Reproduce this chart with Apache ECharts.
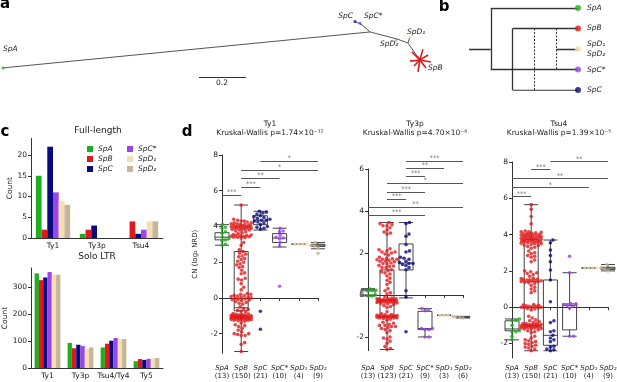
<!DOCTYPE html>
<html>
<head>
<meta charset="utf-8">
<script src="https://cdn.jsdelivr.net/npm/echarts@6/dist/echarts.min.js"></script>
<style>
html, body { margin: 0; padding: 0; background: #fff; }
#chart { width: 617px; height: 382px; }
</style>
</head>
<body>
<div id="chart"></div>
<script>
/* ---------- data ---------- */
const SPECIES = ["SpA", "SpB", "SpC", "SpC*", "SpD₁", "SpD₂"];
const COLORS = ["#1fae1f", "#e0191c", "#0a0a80", "#9b45e6", "#f5deb3", "#c7b598"];

// c: full-length and solo LTR counts (one row per species)
const FL_CATS = ["Ty1", "Ty3p", "Tsu4"];
const FL_VALUES = [[15, 1, 0], [2, 2, 4], [22, 3, 1], [11, 0, 2], [9, 0, 4], [8, 0, 4]];
const SOLO_CATS = ["Ty1", "Ty3p", "Tsu4/Ty4", "Ty5"];
const SOLO_VALUES = [[350, 93, 76, 25], [325, 73, 90, 33], [335, 86, 101, 30],
    [355, 81, 111, 34], [345, 70, 107, 35], [345, 76, 107, 37]];

// d: copy numbers
const D_NAMES = ["Ty1", "Ty3p", "Tsu4"];
const D_PVALUES = ["1.74×10⁻¹²", "4.70×10⁻⁸", "1.39×10⁻⁵"];
const D_COUNTS = [[13, 150, 21, 10, 4, 9], [13, 123, 21, 9, 3, 6], [13, 150, 21, 10, 4, 9]];

const TY1_POINTS = [
    [4.1, 3.95, 3.9, 3.7, 3.6, 3.45, 3.4, 3.35, 3.3, 3.25, 3.2, 3.0, 2.95],
    [5.2, 4.4,
     4.35, 4.3, 4.3, 4.25, 4.2, 4.2, 4.15, 4.15, 4.1, 4.1, 4.05, 4.05, 4.0, 4.0, 4.0, 3.98, 3.95, 3.95, 3.92, 3.9,
     3.9, 3.88, 3.85, 3.85, 3.8, 3.8, 3.75, 3.7, 3.65, 3.6, 3.55, 3.5, 3.5, 3.48, 3.45, 3.45, 3.42, 3.4, 3.4, 3.38,
     3.35, 4.02, 3.96, 4.08, 3.52,
     3.1, 2.95, 2.7, 2.6,
     2.5, 2.45, 2.35, 2.3, 2.2, 2.15, 2.05, 2.0, 1.9, 1.85, 1.75, 1.7, 1.55, 1.4, 1.35, 1.1, 1.05, 1.0,
     0.8, 0.6, 0.45,
     0.25, 0.2, 0.2, 0.15, 0.12, 0.1, 0.08, 0.05, 0.02, 0.0, -0.02, -0.05, -0.08, -0.1, -0.12, -0.15, -0.2, -0.25, -0.3, -0.35,
     -0.5, -0.6, -0.65, -0.7, -0.75, -0.8,
     -0.9, -0.92, -0.95, -0.95, -0.98, -1.0, -1.0, -1.0, -1.02, -1.02, -1.05, -1.05, -1.05, -1.08, -1.08, -1.1, -1.1, -1.1,
     -1.12, -1.12, -1.15, -1.15, -1.18, -1.2, -1.2, -1.22, -1.25, -1.25, -1.28, -1.3, -0.88, -0.97, -1.03, -1.07, -1.13, -1.17, -1.23,
     -1.4, -1.5, -1.55, -1.6, -1.7, -1.8, -1.9, -2.0, -2.0, -2.05, -2.1, -2.1, -2.5, -2.6, -3.0],
    [4.85, 4.8, 4.75, 4.7, 4.6, 4.55, 4.5, 4.45, 4.4, 4.35, 4.35, 4.3, 4.25, 4.2, 4.1, 4.0, 3.95, 3.9, 3.85, -0.75, -1.75],
    [3.9, 3.75, 3.7, 3.5, 3.4, 3.35, 3.3, 3.1, 2.9, 0.65],
    [3.0, 3.0, 3.0, 3.0],
    [3.1, 3.0, 2.97, 2.95, 2.93, 2.9, 2.88, 2.8, 2.5],
];
const TY3P_POINTS = [
    [0.3, 0.28, 0.25, 0.25, 0.22, 0.2, 0.2, 0.18, 0.05, 0.0, -0.02, -0.05, -0.05],
    [3.45, 3.4, 3.35, 3.3, 3.3, 3.2, 3.1, 3.0, 2.95, 2.9,
     2.2, 2.15, 2.1, 2.05, 2.0, 1.95, 1.9, 1.75, 1.72, 1.7, 1.7, 1.68, 1.65, 1.6, 1.5, 1.8, 1.62, 1.58, 1.52, 1.48, 2.05,
     1.4, 1.38, 1.35, 1.3, 1.3, 1.2, 1.15, 1.1, 1.05, 1.0, 0.9, 0.8, 0.7, 0.6, 0.5,
     0.3, 0.2, 0.1, 0.05,
     -0.1, -0.15, -0.18, -0.2, -0.2, -0.22, -0.25, -0.25, -0.28, -0.3, -0.3, -0.32, -0.35, -0.35, -0.38, -0.4, -0.42, -0.45,
     -0.5, -0.55, -0.6, -0.2, -0.27, -0.33, -0.23, -0.29, -0.31, -0.36, -0.18, -0.26,
     -0.8, -0.9, -0.95, -0.98, -1.0, -1.0, -1.02, -1.02, -1.05, -1.05, -1.08, -1.1, -1.1, -1.12, -1.15, -1.2, -1.0, -1.04,
     -0.97, -1.01, -1.06, -1.09, -0.93,
     -1.3, -1.35, -1.4, -1.45, -1.45, -1.5, -1.5, -1.55, -1.6, -1.65, -1.7, -1.8,
     -2.0, -2.05, -2.1, -2.2, -2.3, -2.45, -2.55, -2.6],
    [3.45, 3.4, 2.9, 2.8, 2.4, 2.1, 2.05, 1.8, 1.75, 1.7, 1.6, 1.55, 1.5, 1.5, 1.45, 1.4, 1.3, 1.2, 0.2, -0.1, -1.75],
    [-0.65, -0.7, -0.75, -1.6, -1.6, -1.65, -1.65, -2.0, -2.0],
    [-0.97, -0.97, -0.97],
    [-1.02, -1.03, -1.05, -1.05, -1.07, -1.1],
];
const TSU4_POINTS = [
    [-0.65, -0.68, -0.7, -0.72, -0.75, -1.0, -1.25, -1.3, -1.3, -1.35, -1.35, -1.6, -1.8],
    [5.65, 5.4, 5.0, 4.6,
     4.2, 4.15, 4.15, 4.1, 4.1, 4.05, 4.05, 4.0, 4.0, 4.0, 3.95, 3.95, 3.9, 3.9, 3.88, 3.85, 3.85, 3.8, 3.8, 3.78,
     3.75, 3.75, 3.72, 3.7, 3.7, 3.68, 3.65, 3.65, 3.62, 3.6, 3.6, 3.58, 3.55, 3.5, 3.5, 3.45, 3.42, 3.4, 3.35, 3.3, 3.25,
     4.12, 3.98, 3.92, 3.82, 3.66, 3.52,
     3.1, 3.0, 2.95, 2.85, 2.8, 2.75, 2.6, 2.5,
     2.0, 1.95, 1.9, 1.85, 1.8, 1.7, 1.6, 1.55, 1.5, 1.5, 1.48, 1.45, 1.42, 1.4, 1.38, 1.35, 1.3, 1.2, 1.1, 1.0, 0.9, 0.8,
     1.52, 1.46, 1.58,
     0.15, 0.12, 0.1, 0.08, 0.05, 0.05, 0.02, 0.0, 0.0, -0.02, -0.05, -0.08, -0.1, -0.15,
     -0.5, -0.6, -0.7, -0.75, -0.8, -0.85, -0.9, -0.9, -0.95, -0.95, -0.98, -1.0, -1.0, -1.0, -1.02, -1.02, -1.05, -1.05,
     -1.08, -1.1, -1.1, -1.12, -1.15, -1.15, -1.2, -1.2, -1.25, -1.3, -1.35, -1.4, -0.92, -1.04, -1.18, -1.07,
     -1.6, -1.7, -1.8, -1.85, -1.9, -1.95, -2.0, -2.05, -2.1, -2.15, -2.2, -2.25, -2.3, -2.4],
    [3.7, 3.55, 3.15, 2.85, 2.5, 2.05, 1.5, 0.3, -0.75, -0.85, -1.3, -1.35, -1.55, -1.7, -1.8, -1.9, -2.15, -2.2, -2.3, -2.35, -2.4],
    [2.8, 1.9, 0.2, 0.18, 0.15, 0.1, 0.05, -0.05, -1.6, -1.6],
    [2.15, 2.15, 2.15, 2.15],
    [2.5, 2.35, 2.2, 2.18, 2.15, 2.12, 2.1, 2.05, 2.0],
];

// [min, Q1, median, Q3, max]
const TY1_BOX = [[2.95, 3.25, 3.4, 3.65, 4.1], [-3.0, -0.72, -0.55, 2.6, 5.2], [3.8, 4.1, 4.35, 4.6, 4.85],
    [2.85, 3.1, 3.35, 3.6, 3.9], [3.0, 3.0, 3.0, 3.0, 3.0], [2.75, 2.88, 2.95, 3.0, 3.1]];
const TY3P_BOX = [[-0.05, 0.0, 0.2, 0.25, 0.3], [-2.6, -1.05, -0.25, 1.19, 3.45], [-0.14, 1.19, 1.52, 2.43, 3.45],
    [-2.0, -1.65, -1.6, -0.78, -0.65], [-0.97, -0.97, -0.97, -0.97, -0.97], [-1.1, -1.06, -1.05, -1.03, -1.02]];
const TSU4_BOX = [[-1.8, -1.3, -1.2, -0.75, -0.65], [-2.4, -1.0, 1.4, 3.74, 5.65], [-2.4, -2.1, -1.55, 1.5, 3.7],
    [-1.6, -1.25, 0.1, 0.18, 1.9], [2.15, 2.15, 2.15, 2.15, 2.15], [2.0, 2.08, 2.15, 2.2, 2.35]];

// significance bars: [from, to, height, stars]
const TY1_SIG = [[0, 1, 5.75, "***"], [1, 2, 6.2, "***"], [1, 3, 6.7, "**"], [1, 5, 7.17, "*"], [2, 5, 7.67, "*"]];
const TY3P_SIG = [[0, 3, 3.8, "***"], [0, 5, 4.19, "**"], [1, 2, 4.57, "***"], [1, 3, 4.9, "***"],
    [1, 5, 5.33, "*"], [2, 3, 5.67, "***"], [2, 4, 6.05, "**"], [2, 5, 6.38, "***"]];
const TSU4_SIG = [[0, 1, 6.1, "***"], [0, 4, 6.6, "*"], [0, 5, 7.08, "**"], [1, 2, 7.58, "***"], [2, 5, 8.02, "**"]];

// a: unrooted tree, node positions in substitutions/site
const TREE_NODES = {
    SpA: [0, 0.289], J1: [1.562, 0.136], nC: [1.528, 0.106], SpC: [1.498, 0.092], SpCs: [1.519, 0.098],
    J2: [1.677, 0.166], SpD2: [1.672, 0.172], J3: [1.723, 0.183], SpD1: [1.732, 0.157], nB: [1.774, 0.255],
};
const TREE_EDGES = [["SpA", "J1"], ["nC", "J1"], ["nC", "SpC"], ["nC", "SpCs"], ["J1", "J2"],
    ["J2", "SpD2"], ["J2", "J3"], ["J3", "SpD1"], ["J3", "nB"]];
const SPB_TIPS = [[1.740, 0.221], [1.809, 0.234], [1.749, 0.281], [1.800, 0.289], [1.766, 0.306],
    [1.732, 0.260], [1.821, 0.264], [1.787, 0.209], [1.762, 0.238]];
const SCALE_BAR = [[0.834, 0.328], [1.034, 0.328]];

// b: cladogram (depth, row)
const CLADE_SOLID = [[[0, 2], [1, 2]], [[1, 0], [1, 3]], [[1, 0], [5, 0]], [[1, 3], [5, 3]],
    [[2, 1], [2, 4]], [[2, 1], [5, 1]], [[2, 4], [5, 4]], [[4, 2], [5, 2]]];
const CLADE_DASHED = [[[3, 1], [3, 4]], [[4, 1], [4, 3]]];
const CLADE_TIPS = [[5, 0, 0], [5, 1, 1], [5, 2, 4], [5, 3, 3], [5, 4, 2]]; // depth, row, species index

/* ---------- helpers ---------- */
const FONT = "DejaVu Sans";
const AX = "#333";

function swarmOffsets(vals, pyu, pxu, d, maxOff) {
    const order = vals.map((v, i) => i).sort((a, b) => vals[a] - vals[b]);
    const placed = [];
    const offs = new Array(vals.length).fill(0);
    const cands = [0];
    for (let s = 0.5; s <= maxOff; s += 0.5) cands.push(s, -s);
    order.forEach(i => {
        const y = vals[i] * pyu;
        let best = 0, bestD = -1;
        for (const c of cands) {
            let md = Infinity;
            for (const p of placed) {
                if (Math.abs(p[1] - y) >= d) continue;
                const dd = Math.hypot(p[0] - c, p[1] - y);
                if (dd < md) md = dd;
            }
            if (md >= d) { best = c; break; }
            if (md > bestD) { bestD = md; best = c; }
        }
        placed.push([best, y]);
        offs[i] = best / pxu;
    });
    return offs;
}

function txt(text, x, y, o = {}) {
    return {
        type: "text", x, y, z: 50,
        style: {
            text, fill: o.color || "#222", fontSize: o.size || 7.5, fontFamily: FONT,
            fontStyle: o.italic ? "italic" : "normal", fontWeight: o.bold ? "bold" : "normal",
            align: o.align || "center", verticalAlign: "middle",
        },
    };
}

/* ---------- layout ---------- */
const grids = [
    { left: 3, top: 0, width: 446.5, height: 98.7 },          // a
    { left: 469, top: 8, width: 109, height: 82 },            // b
    { left: 31, top: 138.4, width: 132, height: 99.6 },        // c full-length
    { left: 31, top: 268, width: 132, height: 100 },           // c solo LTR
    { left: 222, top: 155, width: 96, height: 198.3 },         // d Ty1
    { left: 368, top: 169, width: 95, height: 181.6 },         // d Ty3p
    { left: 512, top: 162, width: 96, height: 196 },           // d Tsu4
].map(g => Object.assign(g, { outerBoundsMode: "none" }));

const D_YRANGE = [[-3.1, 8], [-2.65, 6], [-2.8, 8]];
const D_YTICKS = [[-2, 0, 2, 4, 6, 8], [-2, 0, 2, 4, 6], [-2, 0, 2, 4, 6, 8]];
const D_POINTS = [TY1_POINTS, TY3P_POINTS, TSU4_POINTS];
const D_BOXES = [TY1_BOX, TY3P_BOX, TSU4_BOX];
const D_SIGS = [TY1_SIG, TY3P_SIG, TSU4_SIG];

const xAxis = [
    { gridIndex: 0, type: "value", min: 0, max: 1.9, show: false },
    { gridIndex: 1, type: "value", min: 0, max: 5, show: false },
];
const yAxis = [
    { gridIndex: 0, type: "value", min: 0, max: 0.42, inverse: true, show: false },
    { gridIndex: 1, type: "value", min: 0, max: 4, inverse: true, show: false },
];

function barAxes(gi, cats, max, ticks) {
    xAxis.push({
        gridIndex: gi, type: "category", data: cats,
        axisLine: { lineStyle: { color: AX } },
        axisTick: { alignWithLabel: true, length: 3, lineStyle: { color: AX } },
        axisLabel: { color: "#222", fontSize: 7.5, margin: 4, fontFamily: FONT, interval: 0 },
    });
    yAxis.push({
        gridIndex: gi, type: "value", min: 0, max,
        name: "Count", nameLocation: "middle", nameGap: 16,
        nameTextStyle: { fontSize: 7.5, color: "#222", fontFamily: FONT },
        axisLine: { show: true, lineStyle: { color: AX } },
        axisTick: { show: true, length: 3, customValues: ticks, lineStyle: { color: AX } },
        axisLabel: { customValues: ticks, fontSize: 7.5, color: "#222", margin: 4, fontFamily: FONT },
        splitLine: { show: false },
    });
}
barAxes(2, FL_CATS, 24, [0, 5, 10, 15, 20]);
barAxes(3, SOLO_CATS, 370, [0, 100, 200, 300]);

const series = [];

/* a: tree */
series.push({
    type: "lines", coordinateSystem: "cartesian2d", xAxisIndex: 0, yAxisIndex: 0, silent: true,
    lineStyle: { color: "#555", width: 1, opacity: 1 },
    data: TREE_EDGES.map(([a, b]) => ({ coords: [TREE_NODES[a], TREE_NODES[b]] })),
});
series.push({
    type: "lines", coordinateSystem: "cartesian2d", xAxisIndex: 0, yAxisIndex: 0, silent: true,
    lineStyle: { color: COLORS[1], width: 1.6, opacity: 1 },
    data: SPB_TIPS.map(t => ({ coords: [TREE_NODES.nB, t] })),
});
series.push({
    type: "lines", coordinateSystem: "cartesian2d", xAxisIndex: 0, yAxisIndex: 0, silent: true,
    lineStyle: { color: "#333", width: 1, opacity: 1 },
    data: [{ coords: SCALE_BAR }],
});
series.push({
    type: "scatter", xAxisIndex: 0, yAxisIndex: 0, symbolSize: 3, silent: true,
    data: [
        { value: TREE_NODES.SpA, itemStyle: { color: COLORS[0] } },
        { value: TREE_NODES.SpC, itemStyle: { color: COLORS[2] } },
        { value: TREE_NODES.SpCs, itemStyle: { color: COLORS[3] } },
        { value: TREE_NODES.SpD2, itemStyle: { color: COLORS[5] } },
        { value: TREE_NODES.SpD1, itemStyle: { color: COLORS[4] } },
    ],
});

/* b: cladogram */
series.push({
    type: "lines", coordinateSystem: "cartesian2d", xAxisIndex: 1, yAxisIndex: 1, silent: true,
    lineStyle: { color: "#333", width: 1.3, opacity: 1 },
    data: CLADE_SOLID.map(c => ({ coords: c })),
});
series.push({
    type: "lines", coordinateSystem: "cartesian2d", xAxisIndex: 1, yAxisIndex: 1, silent: true,
    lineStyle: { color: "#333", width: 1, type: [2, 1.5], opacity: 1 },
    data: CLADE_DASHED.map(c => ({ coords: c })),
});
series.push({
    type: "scatter", xAxisIndex: 1, yAxisIndex: 1, symbolSize: 6, silent: true, z: 5,
    data: CLADE_TIPS.map(t => ({ value: [t[0], t[1]], itemStyle: { color: COLORS[t[2]] } })),
});

/* c: bars */
SPECIES.forEach((sp, i) => {
    series.push({
        name: sp, type: "bar", xAxisIndex: 2, yAxisIndex: 2, data: FL_VALUES[i],
        barGap: "0%", barCategoryGap: "22%", itemStyle: { color: COLORS[i] },
    });
    series.push({
        name: sp, type: "bar", xAxisIndex: 3, yAxisIndex: 3, data: SOLO_VALUES[i],
        barGap: "0%", barCategoryGap: "22%", itemStyle: { color: COLORS[i] },
    });
});

/* d: box + swarm panels */
D_NAMES.forEach((name, p) => {
    const gi = 4 + p;
    const g = grids[gi];
    const [ymin, ymax] = D_YRANGE[p];
    const pyu = g.height / (ymax - ymin);
    const pxu = g.width / 5;
    const catIdx = xAxis.length;
    xAxis.push({
        gridIndex: gi, type: "category", boundaryGap: false, data: SPECIES,
        offset: 360 - (g.top + g.height),
        axisLine: { lineStyle: { color: AX } },
        axisTick: { length: 3, lineStyle: { color: AX } },
        axisLabel: {
            interval: 0, margin: 4, color: "#222", fontFamily: FONT, lineHeight: 8,
            formatter: (v, i) => `{i|${SPECIES[i]}}\n{n|(${D_COUNTS[p][i]})}`,
            rich: {
                i: { fontStyle: "italic", fontSize: 7, fontFamily: FONT, color: "#222", lineHeight: 8 },
                n: { fontSize: 7, fontFamily: FONT, color: "#222", lineHeight: 8 },
            },
        },
    });
    const valIdx = xAxis.length;
    xAxis.push({ gridIndex: gi, type: "value", min: 0, max: 5, show: false, position: "top" });
    const yIdx = yAxis.length;
    yAxis.push({
        gridIndex: gi, type: "value", min: ymin, max: ymax,
        name: p === 0 ? "CN (log₂ NRD)" : "", nameLocation: "middle", nameGap: 23,
        nameTextStyle: { fontSize: 7, color: "#222", fontFamily: FONT },
        axisLine: { show: true, lineStyle: { color: AX } },
        axisTick: { show: true, length: 3, customValues: D_YTICKS[p], lineStyle: { color: AX } },
        axisLabel: { customValues: D_YTICKS[p], fontSize: 7.5, color: "#222", margin: 4, fontFamily: FONT },
        splitLine: { show: false },
    });

    series.push({
        type: "boxplot", xAxisIndex: catIdx, yAxisIndex: yIdx, data: D_BOXES[p],
        boxWidth: [14, 14], silent: true, z: 2,
        itemStyle: { color: "rgba(255,255,255,0)", borderColor: "#444", borderWidth: 1 },
    });
    D_POINTS[p].forEach((vals, s) => {
        const offs = swarmOffsets(vals, pyu, pxu, 3.6, 10);
        series.push({
            type: "scatter", xAxisIndex: valIdx, yAxisIndex: yIdx, symbolSize: 3.6, silent: true, z: 3,
            itemStyle: { color: COLORS[s] },
            data: vals.map((v, k) => [s + offs[k], v]),
        });
    });
    series.push({
        type: "lines", coordinateSystem: "cartesian2d", xAxisIndex: valIdx, yAxisIndex: yIdx,
        silent: true, clip: false, z: 4,
        lineStyle: { color: "#555", width: 1, opacity: 1 },
        data: D_SIGS[p].map(([a, b, h]) => ({ coords: [[a, h], [b, h]] })),
    });
    series.push({
        type: "scatter", xAxisIndex: valIdx, yAxisIndex: yIdx, symbolSize: 0, silent: true, clip: false, z: 4,
        label: {
            show: true, position: "top", distance: -1, formatter: d => d.value[2],
            fontSize: 6.5, color: "#444", fontFamily: FONT,
        },
        data: D_SIGS[p].map(([a, b, h, t]) => [(a + b) / 2, h, t]),
    });
});

/* texts */
const graphic = [
    txt("a", 5, 4, { size: 15, bold: true, color: "#000" }),
    txt("b", 444, 7, { size: 15, bold: true, color: "#000" }),
    txt("c", 5, 132, { size: 15, bold: true, color: "#000" }),
    txt("d", 187, 132, { size: 15, bold: true, color: "#000" }),
    txt("SpA", 3, 49, { italic: true, align: "left" }),
    txt("SpC", 353, 16, { italic: true, align: "right" }),
    txt("SpC*", 364, 16, { italic: true, align: "left" }),
    txt("SpD₂", 380, 44, { italic: true, align: "left" }),
    txt("SpD₁", 407, 32, { italic: true, align: "left" }),
    txt("SpB", 428, 68, { italic: true, align: "left" }),
    txt("0.2", 222, 83, { size: 7.5 }),
    txt("SpA", 587, 8, { italic: true, align: "left" }),
    txt("SpB", 587, 28, { italic: true, align: "left" }),
    txt("SpD₁", 587, 44, { italic: true, align: "left" }),
    txt("SpD₂", 587, 54, { italic: true, align: "left" }),
    txt("SpC*", 587, 70, { italic: true, align: "left" }),
    txt("SpC", 587, 90, { italic: true, align: "left" }),
    txt("Full-length", 98, 131, { size: 9 }),
    txt("Solo LTR", 97, 257, { size: 9 }),
];
const D_TITLE_X = [270, 415, 559];
D_NAMES.forEach((n, p) => {
    graphic.push(txt(n, D_TITLE_X[p], 124, { size: 7.5 }));
    graphic.push(txt("Kruskal-Wallis p=" + D_PVALUES[p], D_TITLE_X[p], 133.5, { size: 7.5 }));
});

const legendBase = {
    orient: "vertical", icon: "rect", itemWidth: 6, itemHeight: 6, itemGap: 2,
    textStyle: { fontSize: 7.5, fontStyle: "italic", color: "#222", fontFamily: FONT },
    selectedMode: false, padding: 0,
};

const chart = echarts.init(document.getElementById("chart"), null, { renderer: "canvas" });
chart.setOption({
    animation: false,
    backgroundColor: "#fff",
    textStyle: { fontFamily: FONT },
    grid: grids,
    xAxis, yAxis, series, graphic,
    legend: [
        Object.assign({ left: 87, top: 145, data: SPECIES.slice(0, 3) }, legendBase),
        Object.assign({ left: 127, top: 145, data: SPECIES.slice(3) }, legendBase),
    ],
});
</script>
</body>
</html>
